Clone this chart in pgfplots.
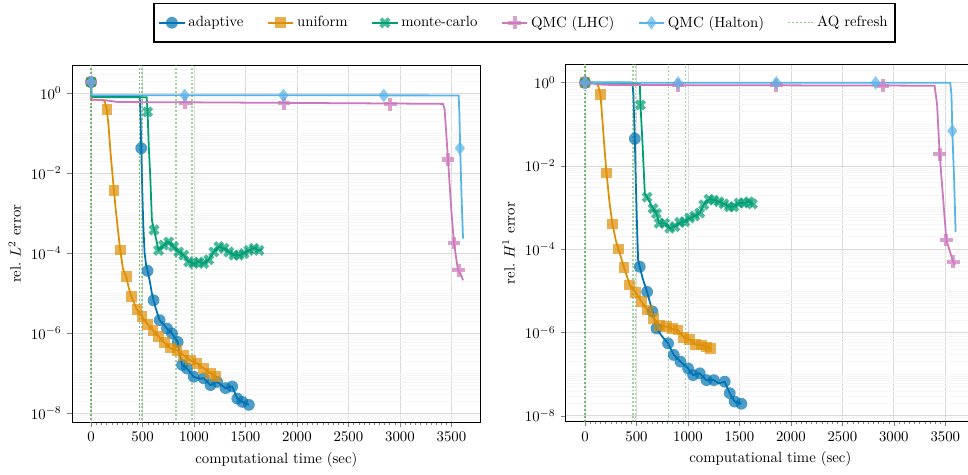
\documentclass[border=0pt]{standalone}
\usepackage{pgfplots}
\pgfplotsset{compat=1.18}

\definecolor{cblue}{HTML}{0173B2}
\definecolor{corange}{HTML}{DE8F05}
\definecolor{cgreen}{HTML}{029E73}
\definecolor{cpink}{HTML}{CC78BC}
\definecolor{clight}{HTML}{56B4E9}
\definecolor{crefresh}{HTML}{4CA64C}

\pgfplotsset{
  errline/.style={line width=1.2pt, mark=none, forget plot},
  errmarks/.style={only marks, forget plot},
  madapt/.style={color=cblue, mark=*, mark size=4pt, mark options={draw opacity=0, fill=cblue, fill opacity=0.7}},
  muni/.style={color=corange, mark=square*, mark size=3.6pt, mark options={draw opacity=0, fill=corange, fill opacity=0.7}},
  mmc/.style={color=cgreen, mark=x, mark size=3.9pt, mark options={line width=2.7pt, draw opacity=0.7}},
  mlhc/.style={color=cpink, mark=+, mark size=4.3pt, mark options={line width=2.8pt, draw opacity=0.7}},
  mhal/.style={color=clight, mark=diamond*, mark size=4.6pt, mark options={draw opacity=0, fill=clight, fill opacity=0.7}},
  aqrefresh/.style={color=crefresh, line width=0.8pt, dash pattern=on 1.3pt off 1.3pt, draw opacity=0.5, mark=none, forget plot},
}

\newcommand{\minorlogticks}{2e-9,3e-9,4e-9,5e-9,6e-9,7e-9,8e-9,9e-9,
      2e-8,3e-8,4e-8,5e-8,6e-8,7e-8,8e-8,9e-8,1e-7,
      2e-7,3e-7,4e-7,5e-7,6e-7,7e-7,8e-7,9e-7,
      2e-6,3e-6,4e-6,5e-6,6e-6,7e-6,8e-6,9e-6,1e-5,
      2e-5,3e-5,4e-5,5e-5,6e-5,7e-5,8e-5,9e-5,
      2e-4,3e-4,4e-4,5e-4,6e-4,7e-4,8e-4,9e-4,1e-3,
      2e-3,3e-3,4e-3,5e-3,6e-3,7e-3,8e-3,9e-3,
      2e-2,3e-2,4e-2,5e-2,6e-2,7e-2,8e-2,9e-2,1e-1,
      2e-1,3e-1,4e-1,5e-1,6e-1,7e-1,8e-1,9e-1,
      2,3,4,5,6,7,8,9}

\begin{document}
\begin{tikzpicture}

% ---------------- relative L2 error ----------------
\begin{axis}[
  at={(48.7pt,35.8pt)}, anchor=south west,
  scale only axis, width=276.3pt, height=241.2pt,
  ymode=log,
  xmin=-185, xmax=3785,
  ymin=5.96e-9, ymax=5.0,
  xtick={0,500,...,3500},
  minor x tick num=9,
  xticklabel style={/pgf/number format/1000 sep={}},
  ytick={1,1e-2,1e-4,1e-6,1e-8},
  minor ytick/.expand once={\minorlogticks},
  minor y tick style={draw=none},
  tick align=outside, tickpos=left,
  major tick length=3.5pt, minor tick length=2pt,
  axis line style={black, line width=0.7pt},
  xmajorgrids, ymajorgrids, yminorgrids,
  major grid style={gray!30, line width=0.5pt},
  minor grid style={gray!7, line width=0.35pt},
  xlabel={computational time (sec)},
  ylabel={rel.\ $L^2$ error},
  legend columns=6,
  legend cell align=left,
  legend style={at={(1.107,1.119)}, anchor=center, draw=black, line width=0.9pt,
    inner xsep=3pt, inner ysep=6.5pt,
    /tikz/every even column/.append style={column sep=14pt}},
]
\addlegendimage{line width=1.2pt, color=cblue, mark=*, mark size=4pt, mark options={draw opacity=0, fill=cblue, fill opacity=0.7}}
\addlegendimage{line width=1.2pt, color=corange, mark=square*, mark size=3.6pt, mark options={draw opacity=0, fill=corange, fill opacity=0.7}}
\addlegendimage{line width=1.2pt, color=cgreen, mark=x, mark size=3.9pt, mark options={line width=2.7pt, draw opacity=0.7}}
\addlegendimage{line width=1.2pt, color=cpink, mark=+, mark size=4.3pt, mark options={line width=2.8pt, draw opacity=0.7}}
\addlegendimage{line width=1.2pt, color=clight, mark=diamond*, mark size=4.6pt, mark options={draw opacity=0, fill=clight, fill opacity=0.7}}
\addlegendimage{color=crefresh, line width=0.8pt, dash pattern=on 1.3pt off 1.3pt, draw opacity=0.6}
\legend{adaptive, uniform, monte-carlo, QMC (LHC), QMC (Halton), AQ refresh}

% adaptive
\addplot[errline, cblue] coordinates {
 (0,1.9) (3,0.85) (472,0.84) (480,0.3) (487,0.042) (497,4e-3) (507,5e-4)
 (520,1e-4) (535,5e-5) (549,3.6e-5) (570,2e-5) (590,1e-5) (607,6.6e-6)
 (630,4e-6) (666,2.1e-6) (700,1.7e-6) (737,1.3e-6) (786,9.8e-7) (841,6e-7)
 (860,3e-7) (884,1.6e-7) (932,1.3e-7) (997,8.1e-8) (1050,7.2e-8) (1094,7.4e-8)
 (1160,5e-8) (1225,6e-8) (1306,4.2e-8) (1371,4.6e-8) (1420,2.3e-8)
 (1469,1.9e-8) (1533,1.6e-8)};
% uniform
\addplot[errline, corange] coordinates {
 (0,1.9) (3,0.69) (120,0.68) (135,0.6) (153,0.39) (170,0.15) (190,0.03)
 (222,3.7e-3) (240,1.2e-3) (260,4e-4) (283,1.2e-4) (310,4e-5) (341,2.6e-5)
 (365,1.4e-5) (390,8.3e-6) (445,3.9e-6) (494,2.6e-6) (549,1.66e-6)
 (601,1.17e-6) (656,8.3e-7) (711,5.8e-7) (770,4.2e-7) (835,3.7e-7)
 (900,2.8e-7) (965,2.1e-7) (1030,1.74e-7) (1094,1.32e-7) (1160,9.8e-8)
 (1215,8.1e-8)};
% monte-carlo
\addplot[errline, cgreen] coordinates {
 (0,1.9) (3,0.8) (540,0.79) (549,0.34) (560,0.05) (575,8e-3) (591,6.6e-4)
 (612,3.8e-4) (656,1.17e-4) (705,1.58e-4) (754,1.9e-4) (802,1.45e-4)
 (851,1.07e-4) (900,8.9e-5) (948,6e-5) (997,5.5e-5) (1046,6e-5) (1094,5.5e-5)
 (1143,6.8e-5) (1192,1.07e-4) (1241,1.45e-4) (1290,1.32e-4) (1338,1.07e-4)
 (1387,8.9e-5) (1436,8.9e-5) (1485,9.8e-5) (1533,1.17e-4) (1582,1.32e-4)
 (1631,1.17e-4) (1663,1.25e-4)};
% QMC (LHC)
\addplot[errline, cpink] coordinates {
 (0,1.9) (3,0.69) (150,0.66) (263,0.6) (1000,0.59) (2000,0.57) (3000,0.55)
 (3418,0.54) (3434,0.4) (3467,0.022) (3499,1.2e-3) (3525,1.8e-4)
 (3564,3.7e-5) (3590,3e-5) (3613,2.1e-5)};
% QMC (Halton)
\addplot[errline, clight] coordinates {
 (0,1.9) (3,0.89) (3570,0.88) (3578,0.3) (3585,0.042) (3600,2e-3) (3613,2.3e-4)};

\addplot[errmarks, madapt] coordinates {
 (0,1.9) (487,0.042) (549,3.6e-5) (607,6.6e-6) (666,2.1e-6) (737,1.3e-6)
 (786,9.8e-7) (841,6e-7) (884,1.6e-7) (932,1.3e-7) (997,8.1e-8) (1094,7.4e-8)
 (1160,5e-8) (1225,6e-8) (1306,4.2e-8) (1371,4.6e-8) (1420,2.3e-8)
 (1469,1.9e-8) (1533,1.6e-8)};
\addplot[errmarks, muni] coordinates {
 (0,1.9) (153,0.39) (222,3.7e-3) (283,1.2e-4) (341,2.6e-5) (390,8.3e-6)
 (445,3.9e-6) (494,2.6e-6) (549,1.66e-6) (601,1.17e-6) (656,8.3e-7)
 (711,5.8e-7) (770,4.2e-7) (835,3.7e-7) (900,2.8e-7) (965,2.1e-7)
 (1030,1.74e-7) (1094,1.32e-7) (1160,9.8e-8) (1215,8.1e-8)};
\addplot[errmarks, mmc] coordinates {
 (0,1.9) (549,0.34) (612,3.8e-4) (656,1.17e-4) (705,1.58e-4) (754,1.9e-4)
 (802,1.45e-4) (851,1.07e-4) (900,8.9e-5) (948,6e-5) (997,5.5e-5) (1046,6e-5)
 (1094,5.5e-5) (1143,6.8e-5) (1192,1.07e-4) (1241,1.45e-4) (1290,1.32e-4)
 (1338,1.07e-4) (1387,8.9e-5) (1436,8.9e-5) (1485,9.8e-5) (1533,1.17e-4)
 (1582,1.32e-4) (1631,1.17e-4)};
\addplot[errmarks, mlhc] coordinates {
 (0,1.9) (916,0.58) (1874,0.56) (2907,0.53) (3467,0.022) (3525,1.8e-4) (3570,3.7e-5)};
\addplot[errmarks, mhal] coordinates {
 (0,1.9) (909,0.88) (1868,0.88) (2843,0.88) (3582,0.042)};

% adaptive quadrature refresh times
\addplot[aqrefresh] coordinates {(0,1e-10) (0,10)};
\addplot[aqrefresh] coordinates {(0,1e-10) (0,10)};
\addplot[aqrefresh] coordinates {(468,1e-10) (468,10)};
\addplot[aqrefresh] coordinates {(472,1e-10) (472,10)};
\addplot[aqrefresh] coordinates {(495,1e-10) (495,10)};
\addplot[aqrefresh] coordinates {(825,1e-10) (825,10)};
\addplot[aqrefresh] coordinates {(980,1e-10) (980,10)};
\end{axis}

% ---------------- relative H1 error ----------------
\begin{axis}[
  at={(382.6pt,36.3pt)}, anchor=south west,
  scale only axis, width=276.3pt, height=240.9pt,
  ymode=log,
  xmin=-185, xmax=3785,
  ymin=7.4e-9, ymax=2.66,
  xtick={0,500,...,3500},
  minor x tick num=9,
  xticklabel style={/pgf/number format/1000 sep={}},
  ytick={1,1e-2,1e-4,1e-6,1e-8},
  minor ytick/.expand once={\minorlogticks},
  minor y tick style={draw=none},
  tick align=outside, tickpos=left,
  major tick length=3.5pt, minor tick length=2pt,
  axis line style={black, line width=0.7pt},
  xmajorgrids, ymajorgrids, yminorgrids,
  major grid style={gray!30, line width=0.5pt},
  minor grid style={gray!7, line width=0.35pt},
  xlabel={computational time (sec)},
  ylabel={rel.\ $H^1$ error},
]
% adaptive
\addplot[errline, cblue] coordinates {
 (0,1.0) (461,1.0) (470,0.5) (484,0.045) (495,3e-3) (505,4e-4) (516,5.6e-5)
 (532,3.8e-5) (560,2e-5) (603,9.5e-6) (655,3.2e-6) (694,1.26e-6) (750,8e-7)
 (807,5.5e-7) (862,2.9e-7) (927,2e-7) (1001,1.38e-7) (1050,9.5e-8)
 (1115,1.05e-7) (1180,7.2e-8) (1251,7.2e-8) (1300,6e-8) (1357,6.6e-8)
 (1406,3.5e-8) (1454,2.2e-8) (1519,1.95e-8)};
% uniform
\addplot[errline, corange] coordinates {
 (0,1.0) (112,0.98) (130,0.8) (150,0.52) (170,0.12) (190,0.025) (209,6.8e-3)
 (240,1.2e-3) (267,4e-4) (300,1.6e-4) (325,1.02e-4) (380,3.6e-5)
 (435,1.38e-5) (493,9.1e-6) (549,5.5e-6) (607,3.5e-6) (668,2.2e-6)
 (726,1.5e-6) (791,1.38e-6) (850,1.23e-6) (904,1.15e-6) (959,7.6e-7)
 (1017,6.9e-7) (1076,5.2e-7) (1131,5e-7) (1180,4.5e-7) (1218,4.2e-7)};
% monte-carlo
\addplot[errline, cgreen] coordinates {
 (0,1.0) (532,0.98) (539,0.29) (560,0.03) (581,2.2e-3) (603,1.78e-3)
 (661,9.5e-4) (694,7.2e-4) (720,4.2e-4) (775,4.2e-4) (823,3.2e-4)
 (872,3.5e-4) (920,4.4e-4) (969,4.6e-4) (1017,5.6e-4) (1066,6.3e-4)
 (1115,7.4e-4) (1153,1.17e-3) (1205,1.58e-3) (1251,1.51e-3) (1302,1.38e-3)
 (1348,1.23e-3) (1401,1.05e-3) (1445,1.05e-3) (1496,1.29e-3) (1542,1.29e-3)
 (1593,1.38e-3) (1626,1.23e-3)};
% QMC (LHC)
\addplot[errline, cpink] coordinates {
 (0,1.0) (150,0.9) (250,0.88) (1000,0.87) (2000,0.86) (3000,0.85)
 (3396,0.84) (3420,0.3) (3445,0.019) (3480,1.5e-3) (3510,1.66e-4)
 (3550,8e-5) (3576,5e-5) (3592,4.2e-5)};
% QMC (Halton)
\addplot[errline, clight] coordinates {
 (0,1.0) (3548,0.99) (3560,0.5) (3568,0.069) (3585,5e-3) (3600,2.6e-4)};

\addplot[errmarks, madapt] coordinates {
 (0,1.0) (484,0.045) (532,3.8e-5) (603,9.5e-6) (655,3.2e-6) (694,1.26e-6)
 (807,5.5e-7) (862,2.9e-7) (927,2e-7) (1001,1.38e-7) (1050,9.5e-8)
 (1115,1.05e-7) (1180,7.2e-8) (1251,7.2e-8) (1357,6.6e-8) (1406,3.5e-8)
 (1454,2.2e-8) (1519,1.95e-8)};
\addplot[errmarks, muni] coordinates {
 (0,1.0) (150,0.52) (209,6.8e-3) (267,4e-4) (325,1.02e-4) (380,3.6e-5)
 (435,1.38e-5) (493,9.1e-6) (549,5.5e-6) (607,3.5e-6) (668,2.2e-6)
 (726,1.5e-6) (791,1.38e-6) (850,1.23e-6) (904,1.15e-6) (959,7.6e-7)
 (1017,6.9e-7) (1076,5.2e-7) (1131,5e-7) (1180,4.5e-7) (1218,4.2e-7)};
\addplot[errmarks, mmc] coordinates {
 (0,1.0) (539,0.29) (603,1.78e-3) (661,9.5e-4) (694,7.2e-4) (720,4.2e-4)
 (775,4.2e-4) (823,3.2e-4) (872,3.5e-4) (920,4.4e-4) (969,4.6e-4)
 (1017,5.6e-4) (1066,6.3e-4) (1115,7.4e-4) (1153,1.17e-3) (1205,1.58e-3)
 (1251,1.51e-3) (1302,1.38e-3) (1348,1.23e-3) (1401,1.05e-3) (1445,1.05e-3)
 (1496,1.29e-3) (1542,1.29e-3) (1593,1.38e-3) (1626,1.23e-3)};
\addplot[errmarks, mlhc] coordinates {
 (0,1.0) (904,0.87) (1859,0.86) (2894,0.85) (3445,0.019) (3510,1.66e-4) (3576,5e-5)};
\addplot[errmarks, mhal] coordinates {
 (0,1.0) (904,0.99) (1859,0.99) (2823,0.99) (3568,0.069)};

% adaptive quadrature refresh times
\addplot[aqrefresh] coordinates {(0,1e-10) (0,10)};
\addplot[aqrefresh] coordinates {(0,1e-10) (0,10)};
\addplot[aqrefresh] coordinates {(462,1e-10) (462,10)};
\addplot[aqrefresh] coordinates {(468,1e-10) (468,10)};
\addplot[aqrefresh] coordinates {(490,1e-10) (490,10)};
\addplot[aqrefresh] coordinates {(815,1e-10) (815,10)};
\addplot[aqrefresh] coordinates {(975,1e-10) (975,10)};
\end{axis}

\pgfresetboundingbox
\useasboundingbox (0,0) rectangle (654.4pt,321.1pt);
\end{tikzpicture}
\end{document}
